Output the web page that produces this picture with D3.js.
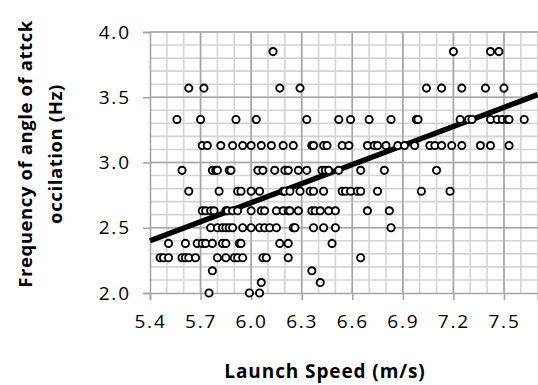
<!DOCTYPE html>
<html>
<head>
<meta charset="utf-8">
<script src="https://cdn.jsdelivr.net/npm/d3@7"></script>
<style>
  body { margin: 0; background: #fff; }
  text { font-family: 'Open Sans', sans-serif; fill: #000; }
</style>
</head>
<body>
<div id="chart"></div>
<script>
// frequency levels (Hz) and the launch speeds (m/s) measured at each level
const freqs = [3.85, 3.57, 3.33, 3.13, 2.94, 2.78, 2.63, 2.50, 2.38, 2.27, 2.17, 2.08, 2.00];
const speeds = [
  [6.13, 7.20, 7.42, 7.47],
  [5.63, 5.72, 6.17, 6.29, 7.04, 7.13, 7.25, 7.39, 7.50],
  [5.56, 5.70, 5.91, 6.03, 6.33, 6.52, 6.59, 6.70, 6.83, 6.98, 6.99, 7.24, 7.29, 7.31,
   7.42, 7.46, 7.49, 7.52, 7.53, 7.62],
  [5.71, 5.74, 5.82, 5.89, 5.95, 6.00, 6.06, 6.12, 6.19, 6.25, 6.36, 6.37, 6.43, 6.45,
   6.54, 6.58, 6.69, 6.73, 6.75, 6.80, 6.87, 6.91, 6.97, 7.06, 7.09, 7.13, 7.19, 7.25,
   7.36, 7.42, 7.53],
  [5.59, 5.77, 5.79, 5.80, 5.87, 5.88, 6.04, 6.07, 6.14, 6.20, 6.22, 6.28, 6.33, 6.42,
   6.44, 6.46, 6.52, 6.65, 6.79, 7.10],
  [5.63, 5.81, 5.92, 5.94, 6.00, 6.05, 6.19, 6.20, 6.23, 6.29, 6.35, 6.37, 6.43, 6.54,
   6.56, 6.59, 6.63, 6.65, 6.75, 7.01, 7.18],
  [5.71, 5.73, 5.76, 5.78, 5.85, 5.86, 5.89, 5.92, 6.00, 6.06, 6.08, 6.15, 6.19, 6.22,
   6.23, 6.28, 6.36, 6.38, 6.41, 6.46, 6.50, 6.69, 6.82],
  [5.76, 5.80, 5.83, 5.85, 5.87, 5.89, 5.95, 6.00, 6.05, 6.08, 6.11, 6.15, 6.25, 6.26,
   6.37, 6.43, 6.50, 6.83],
  [5.51, 5.61, 5.68, 5.71, 5.73, 5.77, 5.83, 5.85, 5.93, 5.94, 6.17, 6.22, 6.48],
  [5.46, 5.48, 5.51, 5.59, 5.61, 5.63, 5.67, 5.80, 5.85, 5.90, 5.92, 5.95, 6.07, 6.09,
   6.22, 6.65],
  [5.77, 6.36],
  [6.06, 6.41],
  [5.75, 5.99, 6.05]
];
// linear trend: value at 5.4 and at 7.7 m/s
const trendX = [5.4, 7.7];
const trendY = [2.40, 3.52];

const xTicks = [5.4, 5.7, 6.0, 6.3, 6.6, 6.9, 7.2, 7.5];
const yTicks = [2.0, 2.5, 3.0, 3.5, 4.0];

const points = [];
freqs.forEach((f, i) => {
  speeds[i].forEach((s) => points.push({ speed: s, freq: f }));
});

const width = 538;
const height = 385;
const margin = { top: 32, right: 0.3, bottom: 92, left: 150 };

const svg = d3.select('#chart').append('svg')
  .attr('width', width)
  .attr('height', height);

const x = d3.scaleLinear()
  .domain([5.4, 7.7])
  .range([margin.left, width - margin.right]);
const y = d3.scaleLinear()
  .domain([2.0, 4.0])
  .range([height - margin.bottom, margin.top]);

// minor grid every 0.1, major every 0.3 (x) and 0.5 (y)
const minorX = d3.range(55, 78).map(d => d / 10);
const minorY = d3.range(21, 41).map(d => d / 10);

const grid = svg.append('g').attr('class', 'grid');
grid.selectAll('.vminor')
  .data(minorX)
  .enter().append('line')
    .attr('x1', d => x(d)).attr('x2', d => x(d))
    .attr('y1', y(2.0)).attr('y2', y(4.0))
    .attr('stroke', '#d4d4d4')
    .attr('stroke-width', 1.6);
grid.selectAll('.hminor')
  .data(minorY)
  .enter().append('line')
    .attr('x1', x(5.4)).attr('x2', width)
    .attr('y1', d => y(d)).attr('y2', d => y(d))
    .attr('stroke', '#d4d4d4')
    .attr('stroke-width', 1.6);
grid.selectAll('.vmajor')
  .data(xTicks.slice(1))
  .enter().append('line')
    .attr('x1', d => x(d)).attr('x2', d => x(d))
    .attr('y1', y(2.0)).attr('y2', y(4.0))
    .attr('stroke', '#a6a6a6')
    .attr('stroke-width', 1.6);
grid.selectAll('.hmajor')
  .data(yTicks.slice(1))
  .enter().append('line')
    .attr('x1', x(5.4)).attr('x2', width)
    .attr('y1', d => y(d)).attr('y2', d => y(d))
    .attr('stroke', '#a6a6a6')
    .attr('stroke-width', 1.6);

// axes
const xAxis = svg.append('g')
  .attr('transform', `translate(0,${y(2.0)})`)
  .call(d3.axisBottom(x)
    .tickValues(xTicks)
    .tickSize(7)
    .tickPadding(15)
    .tickFormat(d3.format('.1f')));
const yAxis = svg.append('g')
  .attr('transform', `translate(${x(5.4)},0)`)
  .call(d3.axisLeft(y)
    .tickValues(yTicks)
    .tickSize(7)
    .tickPadding(14)
    .tickFormat(d3.format('.1f')));

[xAxis, yAxis].forEach((ax) => {
  ax.select('.domain').attr('stroke', '#a6a6a6').attr('stroke-width', 1.6);
  ax.selectAll('.tick line').attr('stroke', '#a6a6a6').attr('stroke-width', 1.6);
  ax.selectAll('.tick text')
    .attr('font-family', "'Open Sans', sans-serif")
    .attr('font-size', 19)
    .attr('letter-spacing', 1.8)
    .attr('fill', '#000');
});
yAxis.selectAll('.tick text').attr('dx', 1.8);

// trend line
svg.append('line')
  .attr('x1', x(trendX[0])).attr('y1', y(trendY[0]))
  .attr('x2', x(trendX[1])).attr('y2', y(trendY[1]))
  .attr('stroke', '#000')
  .attr('stroke-width', 5.5);

// data points
svg.append('g')
  .selectAll('circle')
  .data(points)
  .enter().append('circle')
    .attr('cx', d => x(d.speed))
    .attr('cy', d => y(d.freq))
    .attr('r', 3.6)
    .attr('fill', '#fff')
    .attr('stroke', '#000')
    .attr('stroke-width', 1.9);

// axis titles
svg.append('text')
  .attr('x', 325)
  .attr('y', 378)
  .attr('text-anchor', 'middle')
  .attr('font-weight', 'bold')
  .attr('font-size', 19)
  .attr('letter-spacing', 0.9)
  .text('Launch Speed (m/s)');

const yTitle = svg.append('text')
  .attr('transform', 'translate(0,154) rotate(-90)')
  .attr('text-anchor', 'middle')
  .attr('font-weight', 'bold')
  .attr('font-size', 18.5)
  .attr('letter-spacing', 0.6);
yTitle.append('tspan').attr('x', 0).attr('y', 32).text('Frequency of angle of attck');
yTitle.append('tspan').attr('x', 0).attr('y', 62).text('occilation (Hz)');
</script>
</body>
</html>
